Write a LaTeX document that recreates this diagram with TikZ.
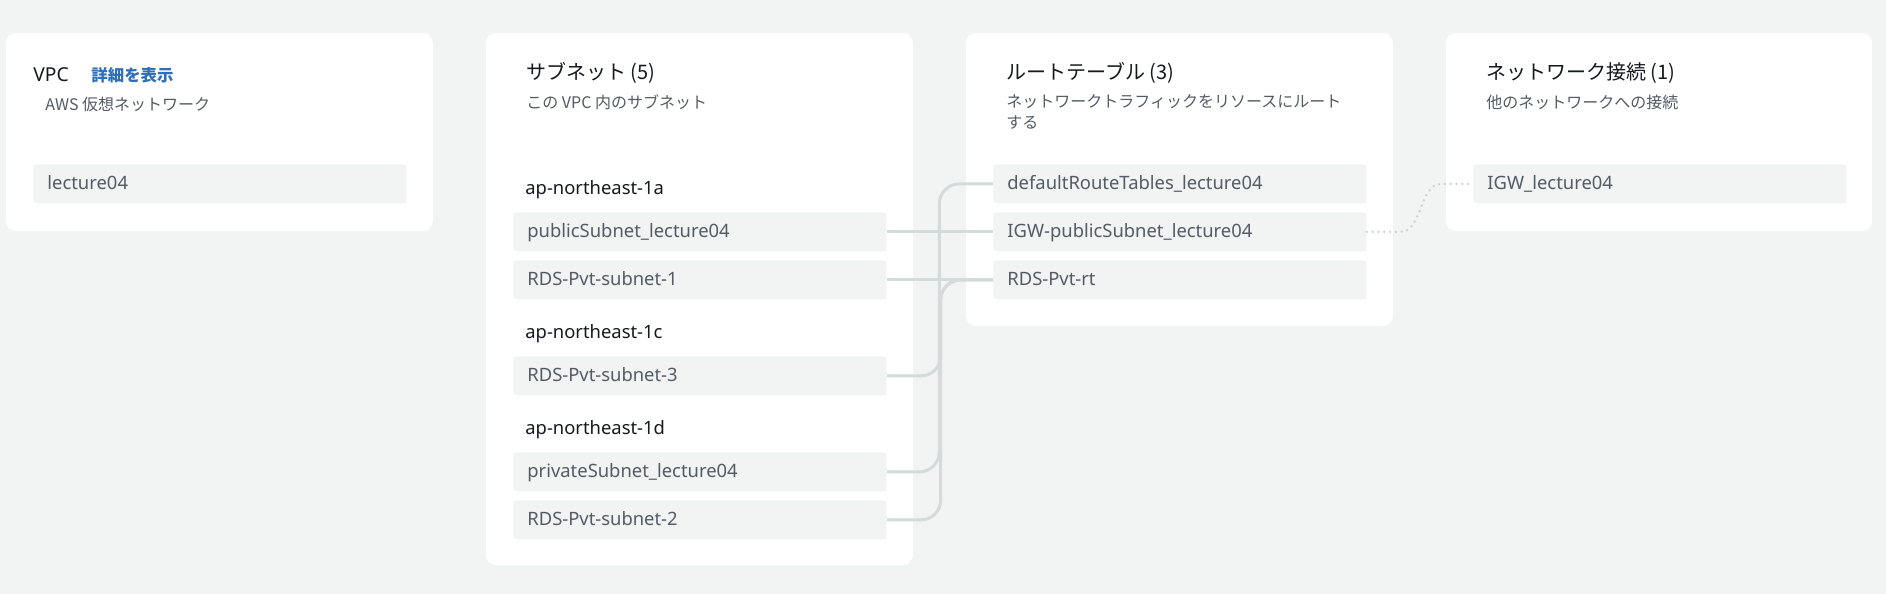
\documentclass[tikz,border=0pt]{standalone}
\usepackage{fontspec}
\setmainfont{Noto Sans}
\newfontfamily\jp{Noto Sans CJK JP}
\usetikzlibrary{positioning}
\definecolor{bggrey}{HTML}{F2F3F3}
\definecolor{rowgrey}{HTML}{F2F3F3}
\definecolor{linegrey}{HTML}{D5DBDB}
\definecolor{dotgrey}{HTML}{CBD0D0}
\definecolor{ink}{HTML}{16191F}
\definecolor{inkgrey}{HTML}{545B64}
\definecolor{linkblue}{HTML}{2D70B8}

\begin{document}
\begin{tikzpicture}[x=0.5pt, y=-0.5pt,
  card/.style={fill=white, rounded corners=5pt},
  rowbox/.style={fill=rowgrey, rounded corners=1.5pt, anchor=north west, inner xsep=7pt, inner ysep=0pt,
    text width=172.5pt, text height=7.5pt, text depth=1.5pt, minimum height=19.5pt, align=left,
    text=inkgrey, font=\fontsize{9.2}{11}\selectfont},
  cardtitle/.style={anchor=west, inner sep=0pt, text=ink, font=\jp\fontsize{10}{12}\selectfont},
  cardsub/.style={anchor=west, inner sep=0pt, text=inkgrey, font=\jp\fontsize{8}{10}\selectfont},
  cardlink/.style={anchor=west, inner sep=0pt, text=linkblue, font=\jp\bfseries\fontsize{8.2}{10}\selectfont},
  zonelabel/.style={anchor=west, inner sep=0pt, text=ink, font=\fontsize{9.2}{11}\selectfont},
  assoc/.style={line width=1.5pt, linegrey, rounded corners=10pt},
  gwdots/.style={line width=1.3pt, dotgrey, line cap=round, dash pattern=on 0pt off 2.9pt}]
\fill[bggrey] (0,0) rectangle (1886,594);
\useasboundingbox (0,0) rectangle (1886,594);

% cards
\fill[card] (6,33) rectangle (433,231);
\fill[card] (486,33) rectangle (913,565);
\fill[card] (966,33) rectangle (1393,326);
\fill[card] (1446,33) rectangle (1872,231);

% VPC
\node[cardtitle, font=\fontsize{9.6}{12}\selectfont] (vpcT) at (33,75) {VPC};
\node[cardlink, right=11pt of vpcT] (vpcLink) {詳細を表示};
\node[cardsub] (vpcS) at (45,104) {AWS 仮想ネットワーク};
\node[rowbox] (vpcRow) at (33,164) {lecture04};

% subnets
\node[cardtitle] (snT) at (526,73) {サブネット (5)};
\node[cardsub] (snS) at (526,102) {この VPC 内のサブネット};
\node[zonelabel] (zoneA) at (525,190) {ap-northeast-1a};
\node[rowbox] (pubSn) at (513,212) {publicSubnet\_lecture04};
\node[rowbox] (rdsSnA) at (513,260) {RDS-Pvt-subnet-1};
\node[zonelabel] (zoneC) at (525,334) {ap-northeast-1c};
\node[rowbox] (rdsSnC) at (513,356) {RDS-Pvt-subnet-3};
\node[zonelabel] (zoneD) at (525,430) {ap-northeast-1d};
\node[rowbox] (privSn) at (513,452) {privateSubnet\_lecture04};
\node[rowbox] (rdsSnD) at (513,500) {RDS-Pvt-subnet-2};

% route tables
\node[cardtitle] (rtT) at (1006,73) {ルートテーブル (3)};
\node[cardsub] (rtS) at (1006,102) {ネットワークトラフィックをリソースにルート};
\node[cardsub] (rtS2) at (1006,123) {する};
\node[rowbox] (defRt) at (993,164) {defaultRouteTables\_lecture04};
\node[rowbox] (igwRt) at (993,212) {IGW-publicSubnet\_lecture04};
\node[rowbox] (rdsRt) at (993,260) {RDS-Pvt-rt};

% gateways
\node[cardtitle] (gwT) at (1486,73) {ネットワーク接続 (1)};
\node[cardsub] (gwS) at (1486,102) {他のネットワークへの接続};
\node[rowbox] (igw) at (1473,164) {IGW\_lecture04};

% associations
\coordinate (busA) at (939.3,0);
\coordinate (busB) at (940.7,0);
\draw[assoc] (pubSn.east) -- (pubSn.east -| igwRt.west);
\draw[assoc] (rdsSnA.east) -- (rdsSnA.east -| rdsRt.west);
\draw[assoc] (privSn.east) -| (busA |- defRt.west) -- (defRt.west);
\draw[assoc] (rdsSnC.east) -| (busB |- rdsRt.west) -- (rdsRt.west);
\draw[assoc] (rdsSnD.east) -| (busB |- rdsRt.west) -- (rdsRt.west);
\draw[gwdots] (igwRt.east) -- ++(34,0) .. controls +(21,0) and +(-21,0) .. ++(40,-48) -- (igw.west);
\end{tikzpicture}
\end{document}
